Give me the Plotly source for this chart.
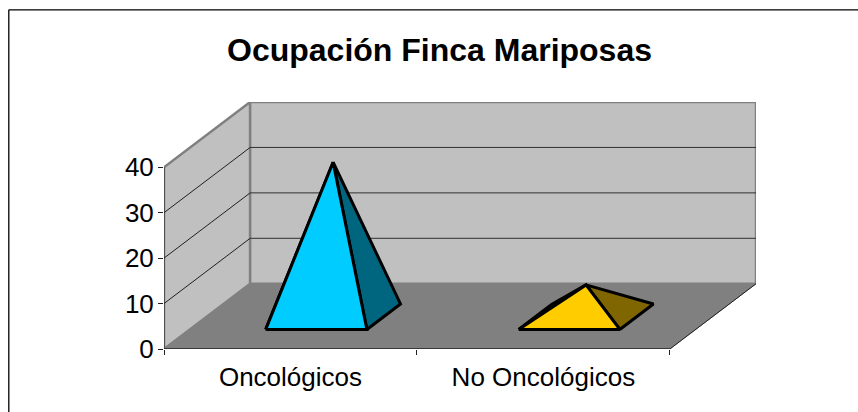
import plotly.graph_objects as go

# data
categories = ["Oncológicos", "No Oncológicos"]
values = [34, 7]
y_ticks = [0, 10, 20, 30, 40]
title_text = "Ocupación Finca Mariposas"

# colours
front_colors = ["#00CCFF", "#FFCC00"]
side_colors = ["#006680", "#806600"]
wall_color = "#C0C0C0"
wall_edge = "#808080"
floor_color = "#808080"

# oblique projection, in axis units
DEPTH_X = 0.3406
DEPTH_Y = 14.36
Y_MAX = 40
N_CAT = len(categories)
BASE_HALF = 0.2
DEPTH_NEAR = 0.3
DEPTH_FAR = 0.69
DEPTH_MID = 0.495

# plot area in px, used for the outer frame
M_L, M_R, M_T, M_B = 164, 102, 102, 63
PLOT_W = 858 - M_L - M_R
PLOT_H = 412 - M_T - M_B
FRAME_X = (8.8 - M_L) / PLOT_W
FRAME_Y = (412 - M_B - 9.8) / PLOT_H


def project(x, depth, value):
    return x + depth * DEPTH_X, value + depth * DEPTH_Y


def polygon(points, fill, line_color, line_width):
    xs = [p[0] for p in points]
    ys = [p[1] for p in points]
    return go.Scatter(x=xs + xs[:1], y=ys + ys[:1], mode="lines", fill="toself" if fill else "none",
                      fillcolor=fill, line=dict(color=line_color, width=line_width),
                      hoverinfo="skip", showlegend=False, cliponaxis=False)


def edge(p0, p1, color, width):
    return go.Scatter(x=[p0[0], p1[0]], y=[p0[1], p1[1]], mode="lines",
                      line=dict(color=color, width=width), hoverinfo="skip", showlegend=False, cliponaxis=False)


fig = go.Figure()

# walls and floor
fig.add_trace(polygon([project(0, 0, 0), project(0, 1, 0), project(0, 1, Y_MAX), project(0, 0, Y_MAX)],
                      wall_color, wall_edge, 2.5))
fig.add_trace(polygon([project(0, 1, 0), project(N_CAT, 1, 0), project(N_CAT, 1, Y_MAX), project(0, 1, Y_MAX)],
                      wall_color, wall_edge, 2.5))
fig.add_trace(polygon([project(0, 0, 0), project(N_CAT, 0, 0), project(N_CAT, 1, 0), project(0, 1, 0)],
                      floor_color, floor_color, 1))

# gridlines
for t in y_ticks[1:-1]:
    fig.add_trace(edge(project(0, 0, t), project(0, 1, t), "#202020", 1))
    fig.add_trace(edge(project(0, 1, t), project(N_CAT, 1, t), "#303030", 1))

# floor edges and value axis
fig.add_trace(edge(project(0, 0, 0), project(N_CAT, 0, 0), "#202020", 1.5))
fig.add_trace(edge(project(N_CAT, 0, 0), project(N_CAT, 1, 0), "#202020", 1))
fig.add_trace(edge(project(0, 0, 0), project(0, 0, Y_MAX), "#202020", 1))

# pyramids
for i, v in enumerate(values):
    cx = i + 0.5
    apex = project(cx, DEPTH_MID, v)
    fl = project(cx - BASE_HALF, DEPTH_NEAR, 0)
    fr = project(cx + BASE_HALF, DEPTH_NEAR, 0)
    br = project(cx + BASE_HALF, DEPTH_FAR, 0)
    bl = project(cx - BASE_HALF, DEPTH_FAR, 0)
    # left face only shows as a sliver behind short pyramids
    fig.add_trace(polygon([bl, fl, apex], front_colors[i], "#000000", 3))
    fig.add_trace(polygon([fr, br, apex], side_colors[i], "#000000", 3))
    fig.add_trace(polygon([fl, fr, apex], front_colors[i], "#000000", 3))

fig.update_xaxes(range=[0, N_CAT + DEPTH_X],
                 tickmode="array", tickvals=[i + 0.5 for i in range(N_CAT)], ticktext=categories,
                 ticks="outside", ticklen=5, tickcolor="rgba(0,0,0,0)",
                 minor=dict(tickmode="array", tickvals=list(range(N_CAT + 1)), ticks="outside",
                            ticklen=5, tickcolor="#202020", tickwidth=1),
                 showgrid=False, zeroline=False, showline=False, fixedrange=True, automargin=False,
                 tickfont=dict(family="Liberation Sans", size=26, color="#000000"))
fig.update_yaxes(range=[0, Y_MAX + DEPTH_Y],
                 tickmode="array", tickvals=y_ticks, ticks="outside", ticklen=5, tickcolor="#202020",
                 ticklabelstandoff=-1,
                 showgrid=False, zeroline=False, showline=False, fixedrange=True, automargin=False,
                 tickfont=dict(family="Liberation Sans", size=26, color="#000000"))

fig.update_layout(
    width=858, height=412,
    margin=dict(l=M_L, r=M_R, t=M_T, b=M_B, pad=0),
    paper_bgcolor="#FFFFFF", plot_bgcolor="rgba(0,0,0,0)",
    showlegend=False,
    title=dict(text="<b>" + title_text + "</b>", x=439.5 / 858, xanchor="center", y=1 - 50 / 412, yanchor="middle",
               font=dict(family="Liberation Sans", size=32, color="#000000")),
    shapes=[dict(type="line", xref="x domain", yref="y domain", x0=FRAME_X, x1=(858 - M_L) / PLOT_W,
                 y0=FRAME_Y, y1=FRAME_Y, line=dict(color="#000000", width=1.3)),
            dict(type="line", xref="x domain", yref="y domain", x0=FRAME_X, x1=FRAME_X,
                 y0=FRAME_Y, y1=-M_B / PLOT_H, line=dict(color="#000000", width=1.3))],
)

fig.write_html("out.html", config=dict(displayModeBar=False),
               post_script="document.body.style.margin='0';document.documentElement.style.overflow='hidden';")
